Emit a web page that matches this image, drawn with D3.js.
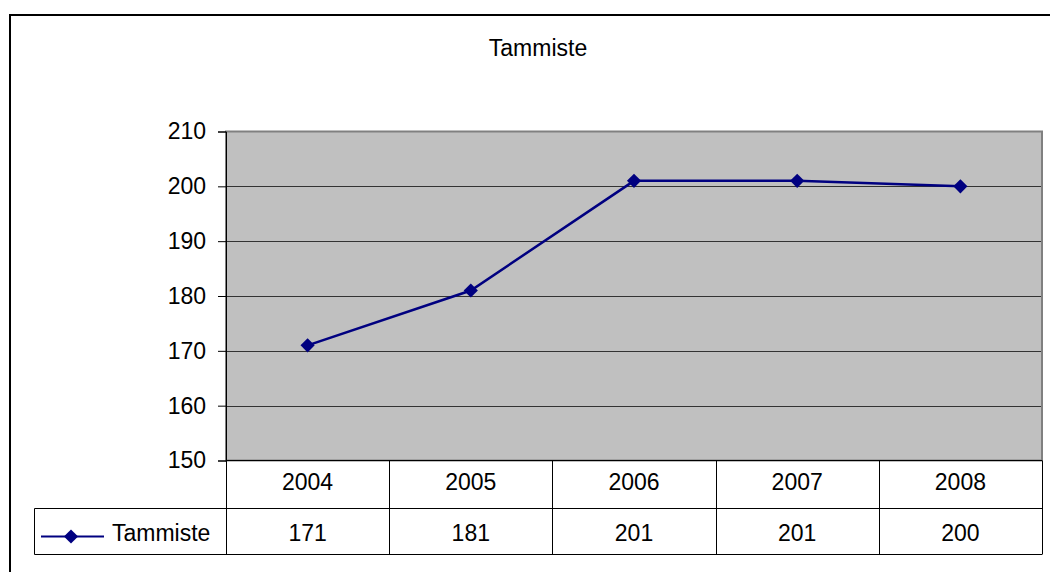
<!DOCTYPE html>
<html>
<head>
<meta charset="utf-8">
<script src="https://cdn.jsdelivr.net/npm/d3@7"></script>
<style>
  html, body { margin: 0; padding: 0; background: #fff; overflow: hidden; }
  svg { display: block; font-family: "Liberation Sans", Arial, sans-serif; }
</style>
</head>
<body>
<svg id="chart" width="1050" height="572"></svg>
<script>
(function (d3) {
    'use strict';

    var title = 'Tammiste';
    var seriesName = 'Tammiste';
    var years = ['2004', '2005', '2006', '2007', '2008'];
    var values = [171, 181, 201, 201, 200];
    var yTicks = [150, 160, 170, 180, 190, 200, 210];

    var svg = d3.select('#chart');

    // plot area bounds
    var left = 226, right = 1042, top = 131.5, bottom = 460.5;
    var row1 = 508.5, row2 = 554.5, legendLeft = 34.5;

    var x = d3.scaleBand().domain(years).range([left, right]).padding(0);
    var y = d3.scaleLinear().domain([150, 210]).range([bottom, top]);

    // chart area frame (runs off the right and bottom edges)
    svg.append('rect')
        .attr('x', 10).attr('y', 15)
        .attr('width', 1100).attr('height', 600)
        .attr('fill', '#fff')
        .attr('stroke', '#000')
        .attr('stroke-width', 2);

    svg.append('text')
        .attr('x', 538).attr('y', 56)
        .attr('text-anchor', 'middle')
        .attr('font-size', 23)
        .text(title);

    // plot background
    svg.append('rect')
        .attr('x', left).attr('y', top)
        .attr('width', right - left).attr('height', bottom - top)
        .attr('fill', '#c0c0c0')
        .attr('stroke', '#808080')
        .attr('stroke-width', 2);

    // gridlines
    svg.append('g')
        .selectAll('line')
        .data(yTicks.slice(1, -1))
        .enter().append('line')
        .attr('x1', left).attr('x2', right - 1)
        .attr('y1', function (d) { return Math.round(y(d)) + 0.5; })
        .attr('y2', function (d) { return Math.round(y(d)) + 0.5; })
        .attr('stroke', '#333')
        .attr('stroke-width', 1);

    // y axis
    var yAxis = d3.axisLeft(y)
        .tickValues(yTicks)
        .tickSize(8)
        .tickPadding(12)
        .tickFormat(d3.format('d'));
    var gy = svg.append('g')
        .attr('transform', 'translate(' + left + ',0)')
        .call(yAxis);
    gy.select('.domain').attr('stroke', '#000');
    gy.selectAll('.tick line').attr('stroke', '#000');
    gy.selectAll('.tick text')
        .attr('font-size', 23)
        .attr('font-family', '"Liberation Sans", Arial, sans-serif')
        .attr('fill', '#000');

    // data table
    var tbl = svg.append('g').attr('fill', 'none').attr('stroke', '#000').attr('stroke-width', 1);
    tbl.append('line').attr('x1', left).attr('x2', right).attr('y1', bottom).attr('y2', bottom);
    tbl.append('line').attr('x1', legendLeft).attr('x2', right).attr('y1', row1).attr('y2', row1);
    tbl.append('line').attr('x1', legendLeft).attr('x2', right).attr('y1', row2).attr('y2', row2);
    tbl.append('line').attr('x1', legendLeft).attr('x2', legendLeft).attr('y1', row1).attr('y2', row2);
    tbl.selectAll('line.col')
        .data(years.concat(['end']))
        .enter().append('line')
        .attr('class', 'col')
        .attr('x1', function (d, i) { return Math.round(left + i * x.bandwidth()) + 0.5; })
        .attr('x2', function (d, i) { return Math.round(left + i * x.bandwidth()) + 0.5; })
        .attr('y1', bottom).attr('y2', row2);

    svg.append('g').selectAll('text')
        .data(years)
        .enter().append('text')
        .attr('x', function (d) { return x(d) + x.bandwidth() / 2; })
        .attr('y', 490)
        .attr('text-anchor', 'middle')
        .attr('font-size', 23)
        .text(function (d) { return d; });

    svg.append('g').selectAll('text')
        .data(values)
        .enter().append('text')
        .attr('x', function (d, i) { return x(years[i]) + x.bandwidth() / 2; })
        .attr('y', 541)
        .attr('text-anchor', 'middle')
        .attr('font-size', 23)
        .text(function (d) { return d; });

    // legend key inside the table
    var diamond = d3.symbol().type(d3.symbolDiamond2).size(128);
    svg.append('line')
        .attr('x1', 41).attr('x2', 104).attr('y1', 536.5).attr('y2', 536.5)
        .attr('stroke', '#000080').attr('stroke-width', 2);
    svg.append('path')
        .attr('d', diamond)
        .attr('transform', 'translate(71,536.5)')
        .attr('fill', '#000080');
    svg.append('text')
        .attr('x', 112).attr('y', 541)
        .attr('font-size', 23)
        .text(seriesName);

    // series line
    var line = d3.line()
        .x(function (d, i) { return x(years[i]) + x.bandwidth() / 2; })
        .y(function (d) { return y(d); });
    svg.append('path')
        .datum(values)
        .attr('d', line)
        .attr('fill', 'none')
        .attr('stroke', '#000080')
        .attr('stroke-width', 2.5);

    svg.append('g').selectAll('path')
        .data(values)
        .enter().append('path')
        .attr('d', diamond)
        .attr('transform', function (d, i) {
            return 'translate(' + (x(years[i]) + x.bandwidth() / 2) + ',' + y(d) + ')';
        })
        .attr('fill', '#000080');
}(window.d3));
</script>
</body>
</html>
